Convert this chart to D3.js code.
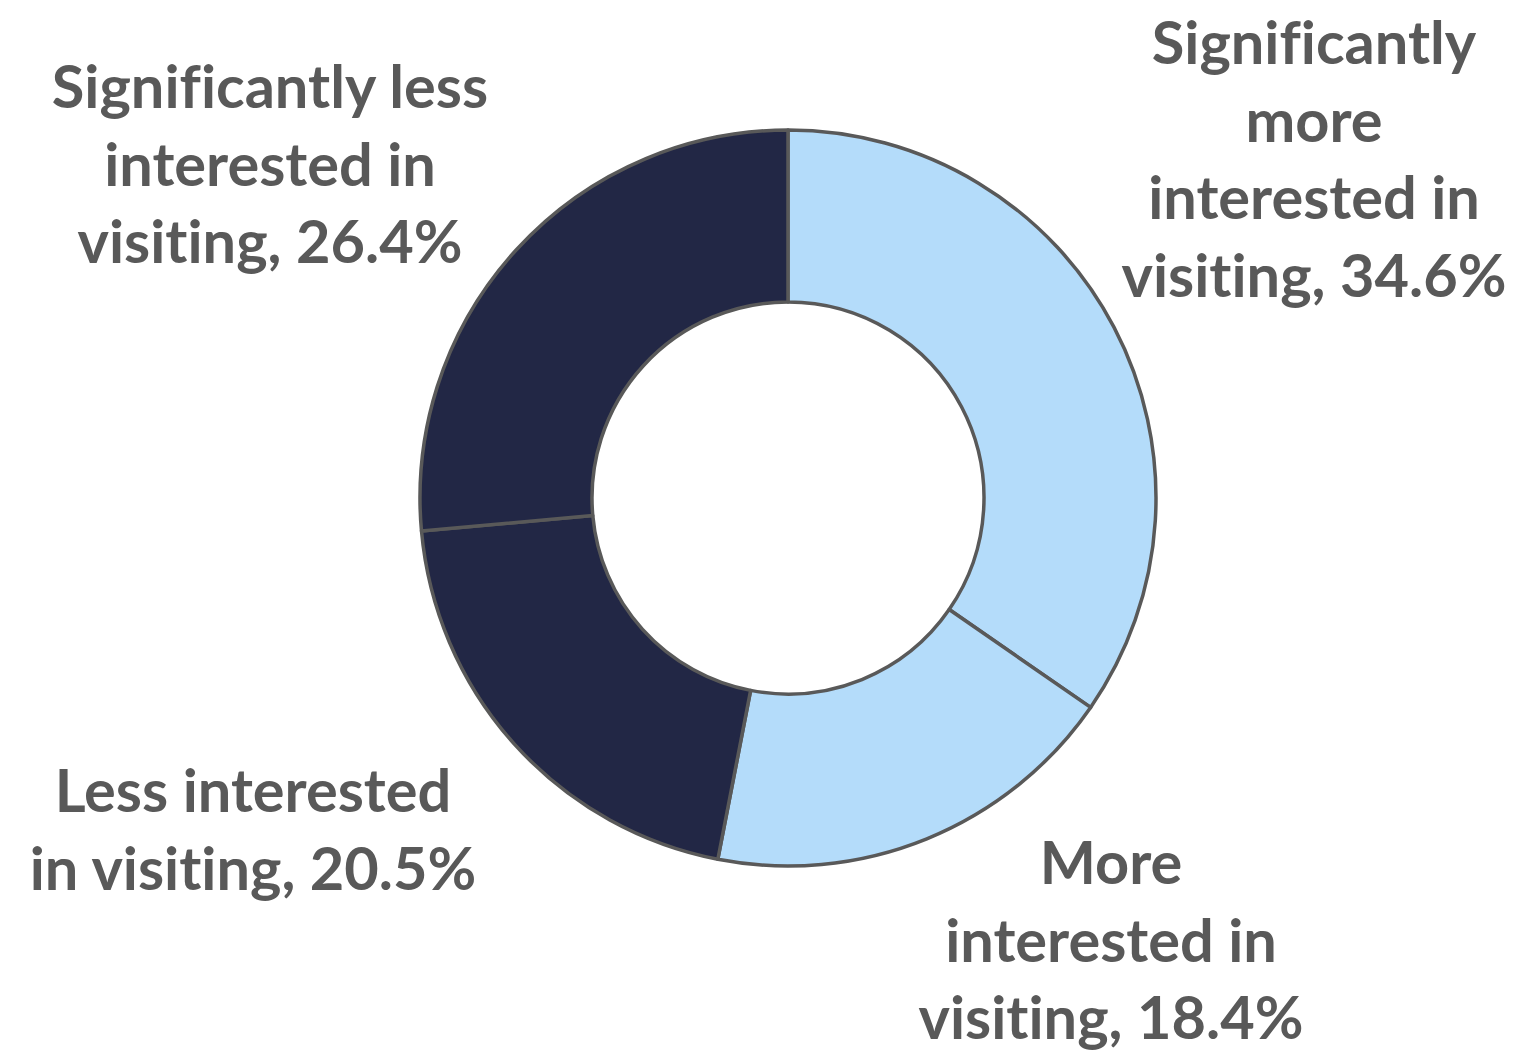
<!DOCTYPE html>
<html>
<head>
<meta charset="utf-8">
<script src="https://cdn.jsdelivr.net/npm/d3@7"></script>
<style>
  html, body { margin: 0; padding: 0; background: #ffffff; }
  svg { display: block; }
  .label {
    font-family: Lato, "Open Sans", sans-serif;
    font-weight: 700;
    fill: #595959;
    font-variant-ligatures: none;
    font-feature-settings: "liga" 0, "clig" 0;
  }
</style>
</head>
<body>
<svg id="chart" width="1513" height="1051"></svg>
<script>
// Interest in visiting: share of respondents per answer
const categories = [
  "Significantly more interested in visiting",
  "More interested in visiting",
  "Less interested in visiting",
  "Significantly less interested in visiting"
];
const values = [34.6, 18.4, 20.5, 26.4];
const colors = ["#B4DCFA", "#B4DCFA", "#222745", "#222745"];

// How each data label wraps onto lines
const labelLines = [
  ["Significantly", "more", "interested in", "visiting, 34.6%"],
  ["More", "interested in", "visiting, 18.4%"],
  ["Less interested", "in visiting, 20.5%"],
  ["Significantly less", "interested in", "visiting, 26.4%"]
];

const width = 1513, height = 1051;
const cx = 788, cy = 498;
const outerR = 368, innerR = 196;
const fontSize = 59.5, lineH = 77.5;

// Label block placement: centre x and first baseline y
const labelPos = [
  { x: 1314, y: 64 },
  { x: 1111, y: 884 },
  { x: 253, y: 812 },
  { x: 270, y: 108 }
];

const svg = d3.select("#chart");
const g = svg.append("g").attr("transform", `translate(${cx},${cy})`);

const pie = d3.pie().sort(null).value(d => d.value);
const arc = d3.arc().innerRadius(innerR).outerRadius(outerR);

const data = categories.map((c, i) => ({ category: c, value: values[i], color: colors[i] }));

g.selectAll("path.slice")
  .data(pie(data))
  .join("path")
  .attr("class", "slice")
  .attr("d", arc)
  .attr("fill", d => d.data.color)
  .attr("stroke", "#595959")
  .attr("stroke-width", 3.5)
  .attr("stroke-linejoin", "round");

const labels = svg.selectAll("text.label")
  .data(data)
  .join("text")
  .attr("class", "label")
  .attr("text-anchor", "middle")
  .attr("font-size", fontSize)
  .attr("x", (d, i) => labelPos[i].x)
  .attr("y", (d, i) => labelPos[i].y);

labels.each(function(d, i) {
  d3.select(this).selectAll("tspan")
    .data(labelLines[i])
    .join("tspan")
    .attr("x", labelPos[i].x)
    .attr("dy", (t, j) => j === 0 ? 0 : lineH)
    .text(t => t);
});
</script>
</body>
</html>
